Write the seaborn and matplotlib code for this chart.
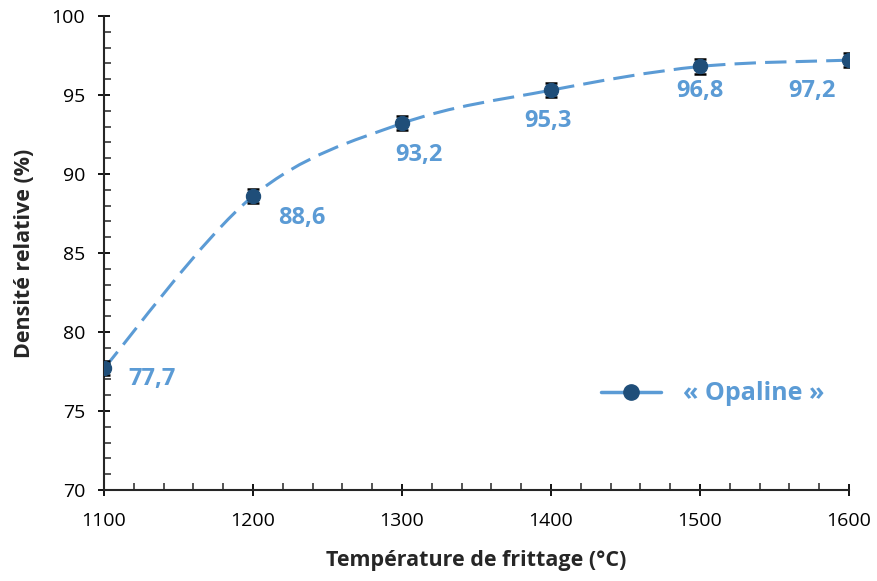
import numpy as np
import pandas as pd
import seaborn as sns
import matplotlib.pyplot as plt
from matplotlib.path import Path
from matplotlib.patches import PathPatch
from matplotlib.lines import Line2D
from matplotlib.ticker import MultipleLocator

temperature = [1100, 1200, 1300, 1400, 1500, 1600]
densite = [77.7, 88.6, 93.2, 95.3, 96.8, 97.2]
erreur = [0.45, 0.45, 0.45, 0.45, 0.45, 0.45]
labels = ["77,7", "88,6", "93,2", "95,3", "96,8", "97,2"]

sns.set_style("ticks")
plt.rcParams["font.family"] = ["Open Sans", "DejaVu Sans"]

line_col = "#5B9BD5"
mark_col = "#1F4E79"

df = pd.DataFrame({"T": temperature, "D": densite})

fig = plt.figure(figsize=(8.77, 5.81), dpi=100)
ax = fig.add_axes([0.1186, 0.1566, 0.8495, 0.816])

# smoothed line (Excel style, Catmull-Rom bezier through the points)
x = np.array(temperature, float)
y = np.array(densite, float)
verts = [(x[0], y[0])]
codes = [Path.MOVETO]
for i in range(len(x) - 1):
    x0, y0 = (x[i - 1], y[i - 1]) if i > 0 else (x[i], y[i])
    x3, y3 = (x[i + 2], y[i + 2]) if i + 2 < len(x) else (x[i + 1], y[i + 1])
    c1 = (x[i] + (x[i + 1] - x0) / 6, y[i] + (y[i + 1] - y0) / 6)
    c2 = (x[i + 1] - (x3 - x[i]) / 6, y[i + 1] - (y3 - y[i]) / 6)
    verts += [c1, c2, (x[i + 1], y[i + 1])]
    codes += [Path.CURVE4] * 3
ax.add_patch(PathPatch(Path(verts, codes), fill=False, edgecolor=line_col,
                       lw=2.2, linestyle=(0, (7, 3)), zorder=2))

ax.errorbar(temperature, densite, yerr=erreur, fmt="none", ecolor="black",
            elinewidth=1.2, capsize=4, capthick=1.8, zorder=3)
sns.scatterplot(data=df, x="T", y="D", ax=ax, s=105, color=mark_col,
                edgecolor=mark_col, zorder=4, legend=False)

offsets = [(48, -11), (49, -22), (17, -32), (-3, -31), (0, -25), (-37, -31)]
for t, d, lab, off in zip(temperature, densite, labels, offsets):
    ax.annotate(lab, (t, d), xytext=off, textcoords="offset pixels",
                ha="center", va="center", color=line_col, fontsize=17,
                fontweight="bold")

ax.set_xlim(1100, 1600)
ax.set_ylim(70, 100)
ax.xaxis.set_major_locator(MultipleLocator(100))
ax.xaxis.set_minor_locator(MultipleLocator(20))
ax.yaxis.set_major_locator(MultipleLocator(5))
ax.yaxis.set_minor_locator(MultipleLocator(1))
ax.tick_params(axis="both", which="major", direction="inout", length=9,
               width=1.3, labelsize=14, colors="black")
ax.tick_params(axis="x", which="major", pad=11)
ax.tick_params(axis="y", which="major", pad=9)
ax.tick_params(axis="both", which="minor", direction="in", length=5, width=1.1)
for s in ["top", "right"]:
    ax.spines[s].set_visible(False)
for s in ["left", "bottom"]:
    ax.spines[s].set_linewidth(1.5)
ax.set_xlabel("Température de frittage (°C)", fontsize=15.5, fontweight="bold", labelpad=15)
ax.set_ylabel("Densité relative (%)", fontsize=15.5, fontweight="bold", labelpad=12)

handle = Line2D([], [], color=line_col, lw=2.5, marker="o", markersize=11,
                markerfacecolor=mark_col, markeredgecolor=mark_col)
leg = ax.legend([handle], ["« Opaline »"], loc="center", bbox_to_anchor=(0.817, 0.203),
                frameon=False, prop={"size": 18, "weight": "bold"},
                labelcolor=line_col, handlelength=2.4, handletextpad=0.9)

fig.savefig("out.png", dpi=100)
